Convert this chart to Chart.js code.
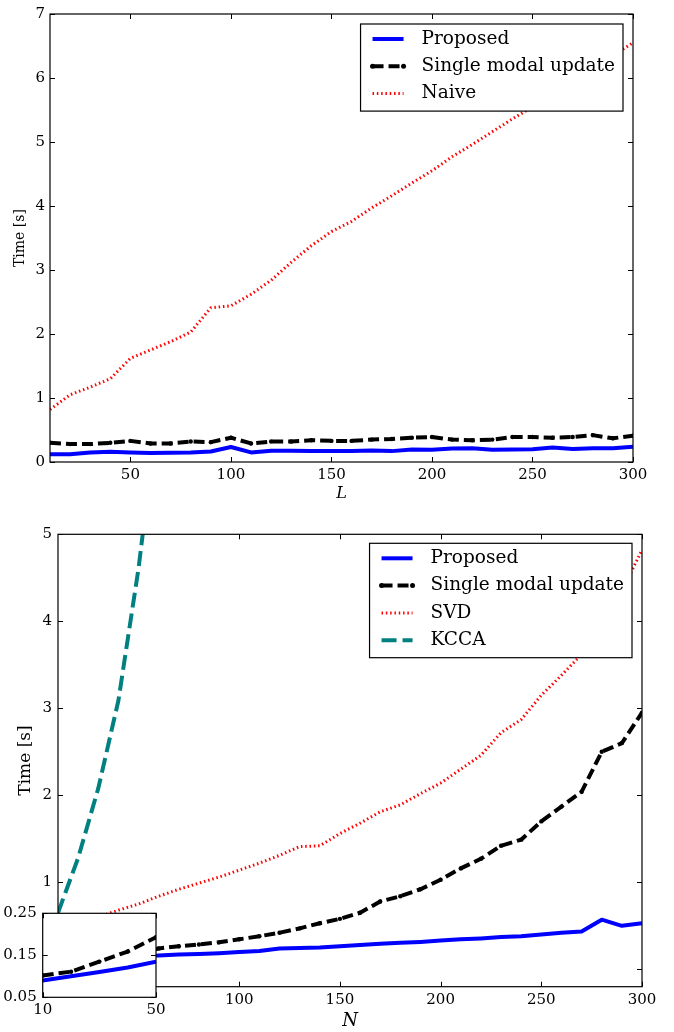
<!DOCTYPE html>
<html>
<head>
<meta charset="utf-8">
<script src="https://cdn.jsdelivr.net/npm/chart.js@4.4.0/dist/chart.umd.min.js"></script>
<style>
  html, body { margin: 0; padding: 0; background: #fff; }
  #wrap { position: relative; width: 674px; height: 1032px; overflow: hidden; }
  canvas { position: absolute; left: 0; }
</style>
</head>
<body>
<div id="wrap">
  <canvas id="topChart" width="674" height="510" style="top:0px"></canvas>
  <canvas id="bottomChart" width="674" height="522" style="top:510px"></canvas>
  <canvas id="insetChart" width="200" height="152" style="top:880px"></canvas>
</div>
<script>
// ---- top chart data (time vs L) ----
const L = [10, 20, 30, 40, 50, 60, 70, 80, 90, 100, 110, 120, 130, 140, 150,
  160, 170, 180, 190, 200, 210, 220, 230, 240, 250, 260, 270, 280, 290, 300];
const topProposed = [0.12, 0.12, 0.15, 0.16, 0.15, 0.14, 0.145, 0.15, 0.165, 0.235,
  0.15, 0.175, 0.175, 0.17, 0.17, 0.17, 0.18, 0.17, 0.195, 0.19,
  0.21, 0.215, 0.19, 0.195, 0.2, 0.225, 0.205, 0.215, 0.215, 0.24];
const topSingle = [0.30, 0.28, 0.28, 0.30, 0.33, 0.29, 0.29, 0.32, 0.31, 0.38,
  0.29, 0.32, 0.32, 0.34, 0.33, 0.33, 0.35, 0.36, 0.38, 0.39,
  0.35, 0.34, 0.35, 0.39, 0.39, 0.38, 0.39, 0.42, 0.37, 0.41];
const topNaive = [0.82, 1.05, 1.17, 1.30, 1.62, 1.75, 1.88, 2.03, 2.41, 2.44,
  2.62, 2.84, 3.12, 3.38, 3.60, 3.76, 3.97, 4.16, 4.36, 4.55,
  4.77, 4.96, 5.16, 5.36, 5.55, 5.75, 5.95, 6.15, 6.35, 6.55];
const topXTicks = [50, 100, 150, 200, 250, 300];
const topYTicks = [0, 1, 2, 3, 4, 5, 6, 7];

// ---- bottom chart data (time vs N) ----
const N = [10, 20, 30, 40, 50, 60, 70, 80, 90, 100, 110, 120, 130, 140, 150,
  160, 170, 180, 190, 200, 210, 220, 230, 240, 250, 260, 270, 280, 290, 300];
const proposed = [0.09, 0.10, 0.11, 0.121, 0.135, 0.16, 0.17, 0.175, 0.185, 0.20,
  0.21, 0.24, 0.245, 0.25, 0.265, 0.28, 0.295, 0.305, 0.315, 0.33,
  0.345, 0.355, 0.37, 0.38, 0.40, 0.42, 0.435, 0.57, 0.50, 0.53];
const single = [0.102, 0.111, 0.135, 0.159, 0.193, 0.24, 0.265, 0.285, 0.31, 0.345,
  0.38, 0.42, 0.47, 0.53, 0.58, 0.65, 0.78, 0.84, 0.92, 1.03,
  1.16, 1.27, 1.42, 1.49, 1.70, 1.87, 2.04, 2.50, 2.60, 2.95];
const svd = [0.42, 0.50, 0.60, 0.68, 0.75, 0.84, 0.92, 0.99, 1.06, 1.14,
  1.22, 1.31, 1.41, 1.42, 1.56, 1.68, 1.81, 1.89, 2.02, 2.14,
  2.30, 2.46, 2.72, 2.87, 3.15, 3.38, 3.62, 3.95, 4.35, 4.82];
const kccaN = [10, 20, 30, 40, 50, 60];
const kcca = [0.65, 1.28, 2.08, 3.09, 4.61, 6.5];
const bottomXTicks = [100, 150, 200, 250, 300];
const bottomYTicks = [0, 1, 2, 3, 4, 5];
const insetXTicks = [10, 50];
const insetYTicks = [0.05, 0.15, 0.25];

const FONT = "'DejaVu Serif', serif";

function pts(xs, ys) {
  return xs.map((x, i) => ({ x: x, y: ys[i] }));
}

// line looks
const solidBlue = { borderColor: "#0000ff", borderWidth: 4, borderDash: [], pointRadius: 0 };
const dashDotBlack = { borderColor: "#000000", borderWidth: 4, borderDash: [11, 5],
  pointRadius: 2.2, pointBackgroundColor: "#000000" };
const dottedRed = { borderColor: "#ff0000", borderWidth: 3, borderDash: [1.5, 2.8], pointRadius: 0 };
const dashedTeal = { borderColor: "#008080", borderWidth: 4, borderDash: [15, 6], pointRadius: 0 };

function dataset(label, data, look) {
  return Object.assign({
    label: label,
    data: data,
    fill: false,
    tension: 0,
    clip: 0,
    pointBorderWidth: 0,
    pointHoverRadius: 0,
    borderCapStyle: "butt",
    borderJoinStyle: "round",
  }, look);
}

// frame + inward ticks on all four sides
const framePlugin = {
  id: "frame",
  afterDatasetsDraw(chart) {
    const { ctx, chartArea: a } = chart;
    const x = chart.scales.x, y = chart.scales.y;
    const t = 5;
    ctx.save();
    ctx.strokeStyle = "#000";
    ctx.lineWidth = 1;
    ctx.beginPath();
    x.ticks.forEach((tk) => {
      const px = Math.round(x.getPixelForValue(tk.value)) + 0.5;
      ctx.moveTo(px, a.bottom); ctx.lineTo(px, a.bottom - t);
      ctx.moveTo(px, a.top); ctx.lineTo(px, a.top + t);
    });
    y.ticks.forEach((tk) => {
      const py = Math.round(y.getPixelForValue(tk.value)) + 0.5;
      ctx.moveTo(a.left, py); ctx.lineTo(a.left + t, py);
      ctx.moveTo(a.right, py); ctx.lineTo(a.right - t, py);
    });
    ctx.stroke();
    ctx.lineWidth = 1.2;
    ctx.strokeRect(a.left, a.top, a.right - a.left, a.bottom - a.top);
    ctx.restore();
  },
};

// white patch behind the inset plot
const whiteArea = {
  id: "whiteArea",
  beforeDatasetsDraw(chart) {
    const { ctx, chartArea: a } = chart;
    ctx.save();
    ctx.fillStyle = "#fff";
    ctx.fillRect(a.left, a.top, a.right - a.left, a.bottom - a.top);
    ctx.restore();
  },
};

// boxed legend in the upper right corner, samples taken from the datasets
const lineLegend = {
  id: "lineLegend",
  afterDraw(chart, args, opts) {
    if (!opts || !opts.show) return;
    const { ctx, chartArea: a } = chart;
    const sets = chart.data.datasets;
    ctx.save();
    ctx.font = "18.5px " + FONT;
    let textW = 0;
    sets.forEach((d) => { textW = Math.max(textW, ctx.measureText(d.label).width); });
    const w = 12 + 31 + 18 + textW + 8;
    const h = 15 + (sets.length - 1) * 27.3 + 17.5;
    const bx = a.right - opts.right - w;
    const by = a.top + opts.top;
    ctx.fillStyle = "#fff";
    ctx.fillRect(bx, by, w, h);
    ctx.strokeStyle = "#000";
    ctx.lineWidth = 1.2;
    ctx.strokeRect(bx, by, w, h);
    sets.forEach((d, i) => {
      const ry = by + 15 + i * 27.3;
      ctx.save();
      ctx.strokeStyle = d.borderColor;
      ctx.lineWidth = d.borderWidth;
      ctx.setLineDash(d.borderDash || []);
      ctx.lineCap = "butt";
      ctx.beginPath();
      ctx.moveTo(bx + 12, ry);
      ctx.lineTo(bx + 43, ry);
      ctx.stroke();
      if (d.pointRadius > 0) {
        ctx.fillStyle = d.pointBackgroundColor;
        [bx + 12, bx + 43].forEach((px) => {
          ctx.beginPath();
          ctx.arc(px, ry, d.pointRadius + 0.3, 0, Math.PI * 2);
          ctx.fill();
        });
      }
      ctx.restore();
      ctx.fillStyle = "#000";
      ctx.textBaseline = "middle";
      ctx.textAlign = "left";
      ctx.fillText(d.label, bx + 61, ry);
    });
    ctx.restore();
  },
};

function fixedTicks(list) {
  return (scale) => { scale.ticks = list.map((v) => ({ value: v })); };
}

function axes(o) {
  return {
    x: {
      type: "linear",
      min: o.xMin, max: o.xMax,
      afterBuildTicks: fixedTicks(o.xTicks),
      afterFit: (s) => { s.height = o.xH; },
      grid: { display: false, drawTicks: false },
      border: { display: false },
      ticks: { autoSkip: false, maxRotation: 0, padding: o.xPad, color: "#000",
        font: { family: FONT, size: 15 },
        callback: (v) => String(v) },
      title: o.xTitle ? { display: true, text: o.xTitle, color: "#000",
        font: { family: FONT, size: o.xTitleSize, style: "italic" },
        padding: { top: 0, bottom: o.xTitlePad } } : { display: false },
    },
    y: {
      type: "linear",
      min: o.yMin, max: o.yMax,
      afterBuildTicks: fixedTicks(o.yTicks),
      afterFit: (s) => { s.width = o.yW; },
      grid: { display: false, drawTicks: false },
      border: { display: false },
      ticks: { padding: o.yPad, color: "#000", font: { family: FONT, size: 15 },
        callback: (v) => (o.yDigits ? v.toFixed(o.yDigits) : String(v)) },
      title: o.yTitle ? { display: true, text: o.yTitle, color: "#000",
        font: { family: FONT, size: o.yTitleSize },
        padding: { top: o.yTitlePad, bottom: 0 } } : { display: false },
    },
  };
}

const common = {
  responsive: false,
  animation: false,
  devicePixelRatio: 1,
  events: [],
};

new Chart(document.getElementById("topChart"), {
  type: "line",
  data: {
    datasets: [
      dataset("Proposed", pts(L, topProposed), solidBlue),
      dataset("Single modal update", pts(L, topSingle), dashDotBlack),
      dataset("Naive", pts(L, topNaive), dottedRed),
    ],
  },
  options: Object.assign({}, common, {
    layout: { padding: { left: 0, right: 41, top: 10, bottom: 0 } },
    scales: axes({
      xMin: 10, xMax: 300, xTicks: topXTicks, xH: 48, xPad: 4,
      xTitle: "L", xTitleSize: 16, xTitlePad: 7,
      yMin: 0, yMax: 7, yTicks: topYTicks, yW: 50, yPad: 5,
      yTitle: "Time [s]", yTitleSize: 14, yTitlePad: 11.6,
    }),
    plugins: { legend: { display: false }, tooltip: { enabled: false },
      lineLegend: { show: true, right: 10, top: 10 } },
  }),
  plugins: [framePlugin, lineLegend],
});

new Chart(document.getElementById("bottomChart"), {
  type: "line",
  data: {
    datasets: [
      dataset("Proposed", pts(N, proposed), solidBlue),
      dataset("Single modal update", pts(N, single), dashDotBlack),
      dataset("SVD", pts(N, svd), dottedRed),
      dataset("KCCA", pts(kccaN, kcca), dashedTeal),
    ],
  },
  options: Object.assign({}, common, {
    layout: { padding: { left: 0, right: 32, top: 24.3, bottom: 0 } },
    scales: axes({
      xMin: 10, xMax: 300, xTicks: bottomXTicks, xH: 45.3, xPad: 4,
      xTitle: "N", xTitleSize: 18, xTitlePad: 0,
      yMin: -0.2, yMax: 5, yTicks: bottomYTicks, yW: 58, yPad: 6,
      yTitle: "Time [s]", yTitleSize: 17, yTitlePad: 15.4,
    }),
    plugins: { legend: { display: false }, tooltip: { enabled: false },
      lineLegend: { show: true, right: 10, top: 9 } },
  }),
  plugins: [framePlugin, lineLegend],
});

new Chart(document.getElementById("insetChart"), {
  type: "line",
  data: {
    datasets: [
      dataset("Proposed", pts(N, proposed), solidBlue),
      dataset("Single modal update", pts(N, single), dashDotBlack),
    ],
  },
  options: Object.assign({}, common, {
    layout: { padding: { left: 0, right: 44, top: 33.3, bottom: 0 } },
    scales: axes({
      xMin: 10, xMax: 50, xTicks: insetXTicks, xH: 34.7, xPad: 3.7,
      yMin: 0.05, yMax: 0.25, yTicks: insetYTicks, yW: 42.7, yPad: 6, yDigits: 2,
    }),
    plugins: { legend: { display: false }, tooltip: { enabled: false },
      lineLegend: { show: false } },
  }),
  plugins: [whiteArea, framePlugin, lineLegend],
});
</script>
</body>
</html>
